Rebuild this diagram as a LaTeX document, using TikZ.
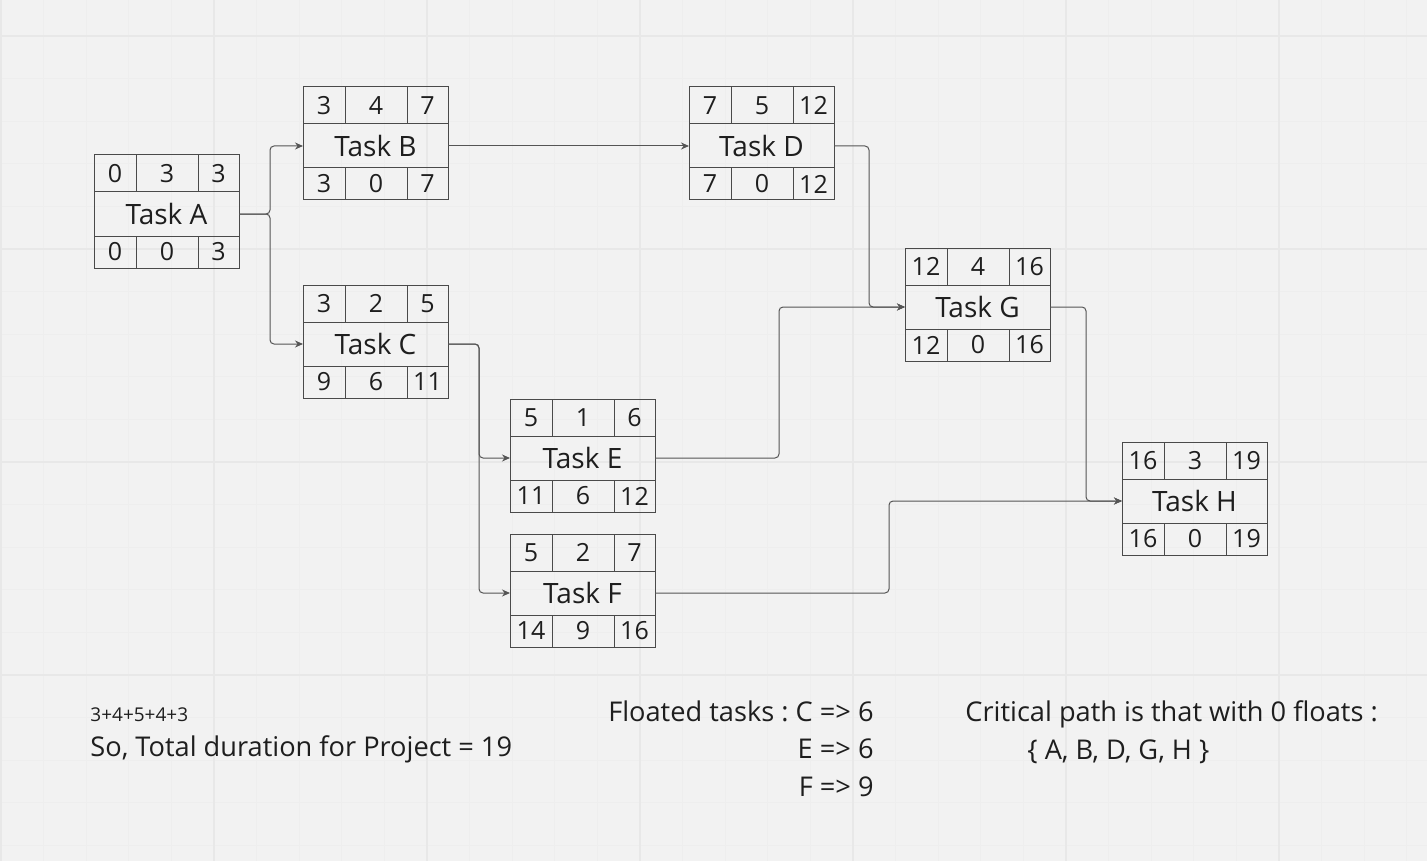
\documentclass[tikz,border=0pt]{standalone}
\usepackage{fontspec}
\setmainfont{Open Sans}
\usetikzlibrary{arrows.meta,positioning}
\frenchspacing
\definecolor{BgClr}{HTML}{F2F2F2}
\definecolor{GridClr}{HTML}{E8E8E8}
\definecolor{MinorClr}{HTML}{EEEEEE}
\definecolor{BoxClr}{HTML}{4A4A4A}
\definecolor{LinkClr}{HTML}{555555}
\definecolor{TxtClr}{HTML}{1E1E1E}

\tikzset{
  taskbox/.style={draw=BoxClr,line width=0.5pt,minimum width=72.5pt,minimum height=22pt,
    inner sep=0pt,outer sep=0pt,text=TxtClr,font=\fontsize{14}{16}\selectfont},
  cell/.style={draw=BoxClr,line width=0.5pt,minimum height=18.5pt,inner sep=0pt,outer sep=0pt,
    text=TxtClr,font=\fontsize{12.5}{14}\selectfont},
  lowcell/.style={cell,minimum height=16pt},
  link/.style={draw=LinkClr,line width=0.5pt,rounded corners=2pt,
    -{Stealth[length=4pt,width=3.5pt]}},
  note/.style={inner sep=0pt,text=TxtClr,font=\fontsize{13.6}{16}\selectfont},
}

% task box: letter, centre, ES, duration, EF, LS, float, LF
\newcommand{\TaskNode}[8]{%
  \node[taskbox] (#1) at #2 {Task #1};
  \node[cell,minimum width=21pt,anchor=south west] (#1es) at (#1.north west) {#3};
  \node[cell,minimum width=31pt,right=0pt of #1es] (#1du) {#4};
  \node[cell,minimum width=20.5pt,right=0pt of #1du] (#1ef) {#5};
  \node[lowcell,minimum width=21pt,anchor=north west] (#1ls) at (#1.south west) {#6};
  \node[lowcell,minimum width=31pt,right=0pt of #1ls] (#1fl) {#7};
  \node[lowcell,minimum width=20.5pt,right=0pt of #1fl] (#1lf) {#8};
}

\begin{document}
\begin{tikzpicture}[x=0.5pt,y=-0.5pt]
\useasboundingbox[fill=BgClr] (0,0) rectangle (1427,861);

% background grid
\foreach \i in {0,...,33} {
  \draw[MinorClr,line width=0.5pt] ({1+42.6*\i},0) -- ({1+42.6*\i},861);
}
\foreach \j in {-1,...,20} {
  \draw[MinorClr,line width=0.5pt] (0,{36+42.6*\j}) -- (1427,{36+42.6*\j});
}
\foreach \i in {0,...,6} {
  \draw[GridClr,line width=0.75pt] ({1+213*\i},0) -- ({1+213*\i},861);
}
\foreach \j in {0,...,3} {
  \draw[GridClr,line width=0.75pt] (0,{36+213*\j}) -- (1427,{36+213*\j});
}

% tasks
\TaskNode{A}{(166.5,214)}{0}{3}{3}{0}{0}{3}
\TaskNode{B}{(375.5,146)}{3}{4}{7}{3}{0}{7}
\TaskNode{C}{(375.5,344)}{3}{2}{5}{9}{6}{11}
\TaskNode{D}{(761.5,146)}{7}{5}{12}{7}{0}{12}
\TaskNode{E}{(582.5,458)}{5}{1}{6}{11}{6}{12}
\TaskNode{F}{(582.5,593)}{5}{2}{7}{14}{9}{16}
\TaskNode{G}{(977.5,307)}{12}{4}{16}{12}{0}{16}
\TaskNode{H}{(1194.5,501)}{16}{3}{19}{16}{0}{19}

% links
\draw[link] (A.east) -- ++(31,0) |- (B.west);
\draw[link] (A.east) -- ++(31,0) |- (C.west);
\draw[link] (B.east) -- (D.west);
\draw[link] (C.east) -- ++(31,0) |- (E.west);
\draw[link] (C.east) -- ++(31,0) |- (F.west);
\draw[link] (D.east) -- ++(35,0) |- (G.west);
\draw[link] (E.east) -- ++(124,0) |- (G.west);
\draw[link] (G.east) -- ++(36,0) |- (H.west);
\draw[link] (F.east) -- ++(234,0) |- (H.west);

% notes
\node[note,anchor=west,font=\fontsize{9.5}{11}\selectfont] (sumtxt) at (90,715) {3+4+5+4+3};
\node[note,anchor=west] (totaltxt) at (90,749) {So, Total duration for Project = 19};
\node[note,anchor=east] (floatc) at (874,711) {Floated tasks : C => 6};
\node[note,anchor=east] (floate) at (874,749) {E => 6};
\node[note,anchor=east] (floatf) at (874,787) {F => 9};
\node[note,anchor=west] (crittxt) at (965,714) {Critical path is that with 0 floats :};
\node[note,anchor=west] (critset) at (1027,752) {\{ A, B, D, G, H \}};

\end{tikzpicture}
\end{document}
